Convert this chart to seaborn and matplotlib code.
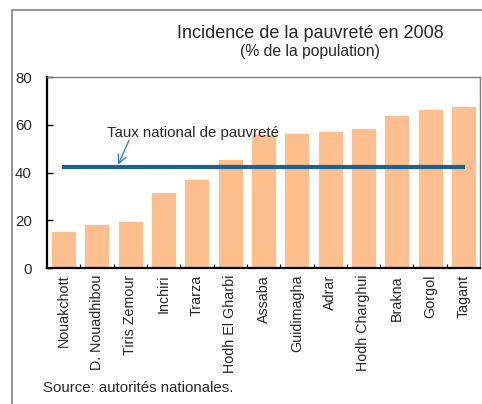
import numpy as np
import pandas as pd
import matplotlib
matplotlib.use("Agg")
import matplotlib.pyplot as plt
from matplotlib.patches import Rectangle
import seaborn as sns

# Data
regions = ['Nouakchott', 'D. Nouadhibou', 'Tiris Zemour', 'Inchiri', 'Trarza',
           'Hodh El Gharbi', 'Assaba', 'Guidimagha', 'Adrar', 'Hodh Charghui',
           'Brakna', 'Gorgol', 'Tagant']
poverty = [15.5, 18.4, 19.7, 31.8, 37.3, 45.6, 56.0, 56.7, 57.4, 58.5, 64.1, 66.7, 67.9]
national_rate = 42.4

sns.set_style('white')
plt.rcParams['font.family'] = ['Liberation Sans', 'DejaVu Sans']

df = pd.DataFrame({'region': regions, 'poverty': poverty})

fig = plt.figure(figsize=(4.82, 4.04), dpi=100)
ax = fig.add_axes([0.0975, 0.3366, 0.8985, 0.4724])

sns.barplot(data=df, x='region', y='poverty', color='#FDBF8D', saturation=1,
            width=0.75, edgecolor='white', linewidth=0.6, ax=ax)

# national poverty line
ax.hlines(national_rate, -0.05, 12.05, color='#1B6396', linewidth=3, zorder=3)
ax.text(1.3, 56.8, 'Taux national de pauvreté', fontsize=10.8, va='center', ha='left')
ax.annotate('', xy=(1.63, 43.3), xytext=(1.96, 53.4),
            arrowprops=dict(arrowstyle='->,head_length=0.6,head_width=0.3',
                            color='#2A86C8', lw=1, shrinkA=0, shrinkB=0))

ax.set_xlim(-0.5, 12.5)
ax.set_ylim(0, 80)
ax.set_yticks([0, 20, 40, 60, 80])
ax.set_xlabel('')
ax.set_ylabel('')
ax.tick_params(axis='y', direction='in', length=4, width=1, left=True,
               labelsize=10.8, pad=11, color='black')
ax.tick_params(axis='x', which='major', length=0, labelsize=10.3, pad=5, rotation=90)
ax.set_xticks(np.arange(0.5, 12.5, 1), minor=True)
ax.tick_params(axis='x', which='minor', direction='in', length=3, width=0.8,
               bottom=True, color='black')

for side in ['left', 'bottom']:
    ax.spines[side].set_color('black')
    ax.spines[side].set_linewidth(1.6)
for side in ['top', 'right']:
    ax.spines[side].set_visible(True)
    ax.spines[side].set_color('#7F7F7F')
    ax.spines[side].set_linewidth(1)

fig.text(0.643, 0.918, 'Incidence de la pauvreté en 2008', ha='center',
         va='center', fontsize=13)
fig.text(0.643, 0.872, '(% de la population)', ha='center', va='center',
         fontsize=11.3)
fig.text(0.09, 0.04, 'Source: autorités nationales.', ha='left', va='center',
         fontsize=10.8)

# outer frame
fig.patches.append(Rectangle((0.025, -0.1), 1.2, 1.075, transform=fig.transFigure,
                             fill=False, edgecolor='#7F7F7F', linewidth=1.2))

fig.savefig('out.png', dpi=100)
